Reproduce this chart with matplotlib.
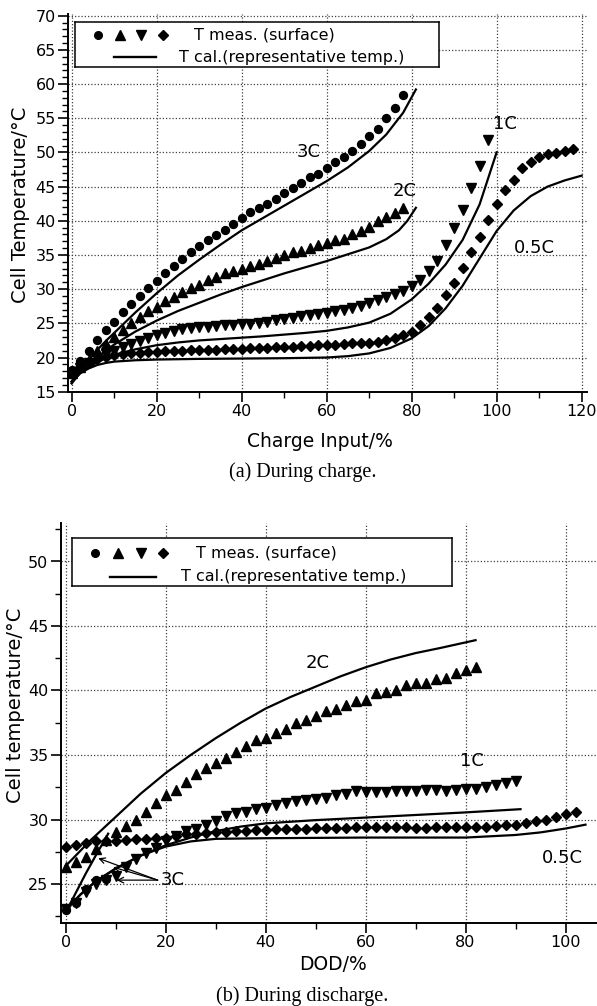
import matplotlib
matplotlib.use('Agg')
import matplotlib.pyplot as plt
from matplotlib.ticker import MultipleLocator

plt.rcParams['font.family'] = ['DejaVu Sans']

# ── (a) CHARGE: measured surface temperatures (every 2 %) ─────────────
x_3c_ch = [0, 2, 4, 6, 8, 10, 12, 14, 16, 18, 20, 22, 24, 26, 28, 30, 32, 34, 36, 38,
           40, 42, 44, 46, 48, 50, 52, 54, 56, 58, 60, 62, 64, 66, 68, 70, 72, 74, 76, 78]
t_3c_ch = [18.2, 19.55, 21.0, 22.6, 24.0, 25.25, 26.6, 27.8, 29.0, 30.1, 31.2, 32.4, 33.4, 34.4,
           35.4, 36.3, 37.2, 37.9, 38.65, 39.6, 40.45, 41.25, 41.9, 42.45, 43.2, 44.0, 44.75,
           45.5, 46.4, 46.9, 47.7, 48.6, 49.4, 50.25, 51.3, 52.4, 53.4, 55.0, 56.45, 58.4]

x_2c_ch = x_3c_ch
t_2c_ch = [17.8, 18.6, 19.6, 20.9, 22.0, 23.0, 24.0, 25.0, 25.9, 26.8, 27.4, 28.3, 28.9, 29.6,
           30.1, 30.6, 31.3, 31.8, 32.3, 32.65, 33.0, 33.45, 33.7, 34.05, 34.6, 35.0, 35.4,
           35.6, 35.95, 36.4, 36.7, 37.2, 37.4, 38.1, 38.55, 39.15, 39.9, 40.6, 41.2, 41.9]

x_1c_ch = [0, 2, 4, 6, 8, 10, 12, 14, 16, 18, 20, 22, 24, 26, 28, 30, 32, 34, 36, 38, 40, 42,
           44, 46, 48, 50, 52, 54, 56, 58, 60, 62, 64, 66, 68, 70, 72, 74, 76, 78, 80, 82, 84,
           86, 88, 90, 92, 94, 96, 98]
t_1c_ch = [17.6, 18.4, 19.2, 19.9, 20.5, 21.0, 21.5, 22.0, 22.45, 22.9, 23.3, 23.65, 23.9, 24.1,
           24.3, 24.4, 24.5, 24.6, 24.7, 24.75, 24.85, 24.95, 25.1, 25.2, 25.45, 25.6, 25.85,
           26.0, 26.2, 26.4, 26.55, 26.8, 27.0, 27.3, 27.6, 28.0, 28.4, 28.8, 29.3, 29.8, 30.4,
           31.4, 32.6, 34.1, 36.4, 38.9, 41.6, 44.75, 48.0, 51.8]

x_05c_ch = [0, 2, 4, 6, 8, 10, 12, 14, 16, 18, 20, 22, 24, 26, 28, 30, 32, 34, 36, 38, 40, 42,
            44, 46, 48, 50, 52, 54, 56, 58, 60, 62, 64, 66, 68, 70, 72, 74, 76, 78, 80, 82, 84,
            86, 88, 90, 92, 94, 96, 98, 100, 102, 104, 106, 108, 110, 112, 114, 116, 118]
t_05c_ch = [17.8, 18.6, 19.3, 19.8, 20.1, 20.3, 20.45, 20.6, 20.7, 20.8, 20.85, 20.9, 20.95,
            21.0, 21.05, 21.1, 21.1, 21.15, 21.2, 21.25, 21.3, 21.35, 21.4, 21.45, 21.5, 21.55,
            21.6, 21.65, 21.7, 21.8, 21.85, 21.9, 22.0, 22.05, 22.1, 22.1, 22.3, 22.5, 22.8,
            23.3, 23.8, 24.8, 25.9, 27.2, 29.15, 30.95, 33.05, 35.5, 37.7, 40.1, 42.45, 44.5,
            45.95, 47.7, 48.6, 49.4, 49.8, 49.95, 50.25, 50.45]

# ── (a) CHARGE: calculated representative temperatures ────────────────
xc_3c_ch = [0, 2, 4, 6, 8, 10, 15, 20, 25, 30, 35, 40, 45, 50, 55, 60, 65, 70, 74, 78, 81]
tc_3c_ch = [16.3, 18.0, 19.6, 21.1, 22.4, 23.6, 26.6, 29.4, 32.0, 34.3, 36.5, 38.6, 40.4,
            42.2, 44.0, 45.8, 47.8, 50.2, 52.6, 55.8, 59.2]
xc_2c_ch = [0, 2, 4, 6, 8, 10, 15, 20, 25, 30, 35, 40, 45, 50, 55, 60, 65, 70, 74, 77, 79, 81]
tc_2c_ch = [16.2, 17.8, 19.0, 20.0, 21.0, 21.9, 23.8, 25.4, 26.8, 28.0, 29.2, 30.3, 31.3,
            32.3, 33.2, 34.1, 35.1, 36.1, 37.3, 38.6, 40.0, 41.9]
xc_1c_ch = [0, 2, 4, 6, 8, 10, 15, 20, 25, 30, 35, 40, 45, 50, 55, 60, 65, 70, 75, 80, 84,
            88, 92, 96, 100]
tc_1c_ch = [16.5, 17.7, 18.6, 19.3, 19.9, 20.4, 21.2, 21.8, 22.2, 22.5, 22.7, 22.9, 23.1,
            23.35, 23.6, 23.9, 24.4, 25.1, 26.4, 28.5, 30.8, 33.6, 37.2, 42.4, 50.0]
xc_05c_ch = [0, 2, 4, 6, 8, 10, 15, 20, 30, 40, 50, 60, 65, 70, 75, 80, 84, 88, 92, 96, 100,
             104, 108, 112, 116, 120]
tc_05c_ch = [16.5, 17.7, 18.4, 18.9, 19.2, 19.4, 19.6, 19.7, 19.8, 19.85, 19.9, 20.0, 20.2,
             20.6, 21.4, 22.8, 24.6, 27.2, 30.5, 34.5, 38.5, 41.5, 43.6, 45.0, 45.9, 46.6]

# ── (b) DISCHARGE: measured surface temperatures ─────────────────────
x_3c_dis = [0, 2, 4, 6, 8]
t_3c_dis = [23.0, 23.5, 24.6, 25.3, 25.4]

x_2c_dis = [0, 2, 4, 6, 8, 10, 12, 14, 16, 18, 20, 22, 24, 26, 28, 30, 32, 34, 36, 38, 40,
            42, 44, 46, 48, 50, 52, 54, 56, 58, 60, 62, 64, 66, 68, 70, 72, 74, 76, 78, 80, 82]
t_2c_dis = [26.3, 26.7, 27.1, 27.7, 28.4, 29.0, 29.5, 30.0, 30.6, 31.3, 31.9, 32.3, 32.9,
            33.5, 34.0, 34.4, 34.8, 35.2, 35.7, 36.2, 36.3, 36.7, 37.0, 37.5, 37.7, 38.0, 38.4,
            38.6, 38.9, 39.15, 39.3, 39.8, 39.85, 40.0, 40.4, 40.6, 40.6, 40.9, 41.0, 41.35,
            41.6, 41.8]

x_1c_dis = [0, 2, 4, 6, 8, 10, 12, 14, 16, 18, 20, 22, 24, 26, 28, 30, 32, 34, 36, 38, 40,
            42, 44, 46, 48, 50, 52, 54, 56, 58, 60, 62, 64, 66, 68, 70, 72, 74, 76, 78, 80, 82,
            84, 86, 88, 90]
t_1c_dis = [23.1, 23.5, 24.4, 25.0, 25.3, 25.6, 26.3, 26.9, 27.4, 27.8, 28.3, 28.7, 29.1,
            29.3, 29.6, 29.85, 30.3, 30.5, 30.6, 30.8, 30.9, 31.1, 31.3, 31.4, 31.5, 31.6,
            31.65, 31.9, 32.0, 32.2, 32.1, 32.1, 32.1, 32.2, 32.2, 32.2, 32.25, 32.3, 32.2,
            32.3, 32.35, 32.4, 32.5, 32.7, 32.8, 32.95]

x_05c_dis = [0, 2, 4, 6, 8, 10, 12, 14, 16, 18, 20, 22, 24, 26, 28, 30, 32, 34, 36, 38, 40,
             42, 44, 46, 48, 50, 52, 54, 56, 58, 60, 62, 64, 66, 68, 70, 72, 74, 76, 78, 80,
             82, 84, 86, 88, 90, 92, 94, 96, 98, 100, 102]
t_05c_dis = [27.9, 28.0, 28.15, 28.3, 28.3, 28.35, 28.4, 28.45, 28.5, 28.55, 28.6, 28.75,
             28.85, 28.9, 28.95, 29.0, 29.05, 29.1, 29.1, 29.2, 29.2, 29.25, 29.25, 29.3, 29.3,
             29.35, 29.35, 29.35, 29.35, 29.4, 29.4, 29.4, 29.4, 29.4, 29.4, 29.35, 29.35, 29.4,
             29.4, 29.4, 29.4, 29.45, 29.45, 29.5, 29.55, 29.6, 29.7, 29.85, 30.0, 30.2, 30.4,
             30.6]

# ── (b) DISCHARGE: calculated representative temperatures ────────────
xc_3c_dis = [0, 2, 4, 6, 8.5]
tc_3c_dis = [22.8, 24.3, 25.8, 27.2, 28.9]
xc_2c_dis = [0, 5, 10, 15, 20, 25, 30, 35, 40, 45, 50, 55, 60, 65, 70, 75, 82]
tc_2c_dis = [26.4, 28.4, 30.2, 32.0, 33.6, 35.0, 36.3, 37.5, 38.6, 39.5, 40.3, 41.1, 41.8,
             42.4, 42.9, 43.3, 43.9]
xc_1c_dis = [0, 3, 6, 10, 15, 20, 25, 30, 35, 40, 50, 60, 70, 80, 91]
tc_1c_dis = [23.0, 24.2, 25.2, 26.2, 27.2, 28.0, 28.6, 29.1, 29.45, 29.7, 29.95, 30.15,
             30.35, 30.55, 30.8]
xc_05c_dis = [0, 3, 6, 10, 15, 20, 25, 30, 40, 60, 80, 90, 95, 100, 104]
tc_05c_dis = [23.0, 24.2, 25.2, 26.2, 27.2, 27.9, 28.3, 28.5, 28.55, 28.6, 28.6, 28.8,
              29.0, 29.3, 29.6]

W, H = 597, 1006
fig = plt.figure(figsize=(W / 100, H / 100), dpi=100)


def rect(left, top, right, bottom):
    return [left / W, 1 - bottom / H, (right - left) / W, (bottom - top) / H]


def style_axes(ax):
    for s in ['top', 'right']:
        ax.spines[s].set_visible(False)
    for s in ['left', 'bottom']:
        ax.spines[s].set_linewidth(1.4)
    ax.tick_params(which='major', direction='out', length=7, width=1.2, labelsize=11.5, pad=2)
    ax.tick_params(which='minor', direction='out', length=4, width=1.0)
    ax.grid(True, which='major', linestyle=(0, (1, 1.6)), color='0.25', linewidth=0.9)
    ax.set_axisbelow(True)


def draw_legend(left, top, right, bottom, mk_y, mk_x, txt1_x, ln_y, ln_x, txt2_x):
    lg = fig.add_axes(rect(left, top, right, bottom), zorder=5)
    lg.set_xlim(left, right)
    lg.set_ylim(bottom, top)
    lg.set_xticks([])
    lg.set_yticks([])
    for s in lg.spines.values():
        s.set_linewidth(1.1)
    for x, m, ms in zip(mk_x, ['o', '^', 'v', 'D'], [5.5, 6.5, 6.5, 4.6]):
        lg.plot([x], [mk_y], marker=m, ms=ms, color='black', ls='none')
    lg.text(txt1_x, mk_y, 'T meas. (surface)', fontsize=11.5, va='center', ha='left')
    lg.plot(ln_x, [ln_y, ln_y], color='black', lw=1.7)
    lg.text(txt2_x, ln_y, 'T cal.(representative temp.)', fontsize=11.5, va='center', ha='left')


def plot_set(ax, meas, calc):
    for (x, t, m, ms) in meas:
        ax.plot(x, t, ls='none', marker=m, ms=ms, color='black', zorder=3)
    for (x, t) in calc:
        ax.plot(x, t, color='black', lw=1.6, zorder=2)


# ── (a) During charge ─────────────────────────────────────────────────
ax1 = fig.add_axes(rect(68.3, 14.3, 586.7, 391.7))
style_axes(ax1)
plot_set(ax1,
         [(x_3c_ch, t_3c_ch, 'o', 5.7), (x_2c_ch, t_2c_ch, '^', 6.5),
          (x_1c_ch, t_1c_ch, 'v', 6.5), (x_05c_ch, t_05c_ch, 'D', 4.6)],
         [(xc_3c_ch, tc_3c_ch), (xc_2c_ch, tc_2c_ch), (xc_1c_ch, tc_1c_ch),
          (xc_05c_ch, tc_05c_ch)])
ax1.set_xlim(-0.8, 121.2)
ax1.set_ylim(15, 70.2)
ax1.xaxis.set_major_locator(MultipleLocator(20))
ax1.xaxis.set_minor_locator(MultipleLocator(10))
ax1.yaxis.set_major_locator(MultipleLocator(5))
ax1.yaxis.set_minor_locator(MultipleLocator(1))
for txt, x, y in [('3C', 55.7, 50.1), ('2C', 78.4, 44.4), ('1C', 102, 54.1), ('0.5C', 108.8, 36.0)]:
    ax1.text(x, y, txt, fontsize=13, ha='center', va='center')
draw_legend(75.4, 21.7, 439, 66.7, 35, [98, 120, 141, 163], 194, 57.3, [113.5, 156], 179)

fig.text(21 / W, 1 - 205 / H, 'Cell Temperature/\u00b0C', rotation=90, fontsize=14,
         ha='center', va='center')
fig.text(320 / W, 1 - 441.7 / H, 'Charge Input/%', fontsize=13.5, ha='center', va='center')
fig.text(302.7 / W, 1 - 471.7 / H, '(a) During charge.', fontsize=14.5,
         family='Liberation Serif', ha='center', va='center')

# ── (b) During discharge ──────────────────────────────────────────────
ax2 = fig.add_axes(rect(61, 522.8, 597, 922.7))
style_axes(ax2)
plot_set(ax2,
         [(x_3c_dis, t_3c_dis, 'o', 5.7), (x_2c_dis, t_2c_dis, '^', 6.5),
          (x_1c_dis, t_1c_dis, 'v', 6.5), (x_05c_dis, t_05c_dis, 'D', 4.6)],
         [(xc_3c_dis, tc_3c_dis), (xc_2c_dis, tc_2c_dis), (xc_1c_dis, tc_1c_dis),
          (xc_05c_dis, tc_05c_dis)])
ax2.set_xlim(-0.94, 106.3)
ax2.set_ylim(22, 53)
ax2.xaxis.set_major_locator(MultipleLocator(20))
ax2.xaxis.set_minor_locator(MultipleLocator(10))
ax2.yaxis.set_major_locator(MultipleLocator(5))
ax2.yaxis.set_minor_locator(MultipleLocator(2.5))
for txt, x, y in [('2C', 50.5, 42.1), ('1C', 81.3, 34.5), ('0.5C', 99.4, 27.0)]:
    ax2.text(x, y, txt, fontsize=13, ha='center', va='center')
ax2.text(21.4, 25.33, '3C', fontsize=13, ha='center', va='center')
for tx, ty in [(6.5, 27.0), (9.5, 26.3), (10.2, 25.3)]:
    ax2.annotate('', xy=(tx, ty), xytext=(18.4, 25.3),
                 arrowprops=dict(arrowstyle='->', color='black', lw=0.9,
                                 shrinkA=0, shrinkB=0))
draw_legend(71.6, 538.3, 452.4, 586, 553.3, [95, 118, 141, 163], 196, 576.7, [110, 156], 181)

fig.text(16 / W, 1 - 705 / H, 'Cell temperature/\u00b0C', rotation=90, fontsize=14,
         ha='center', va='center')
fig.text(333 / W, 1 - 965 / H, 'DOD/%', fontsize=13.5, ha='center', va='center')
fig.text(302 / W, 1 - 996 / H, '(b) During discharge.', fontsize=14.5,
         family='Liberation Serif', ha='center', va='center')

plt.savefig('out.png', dpi=100)
